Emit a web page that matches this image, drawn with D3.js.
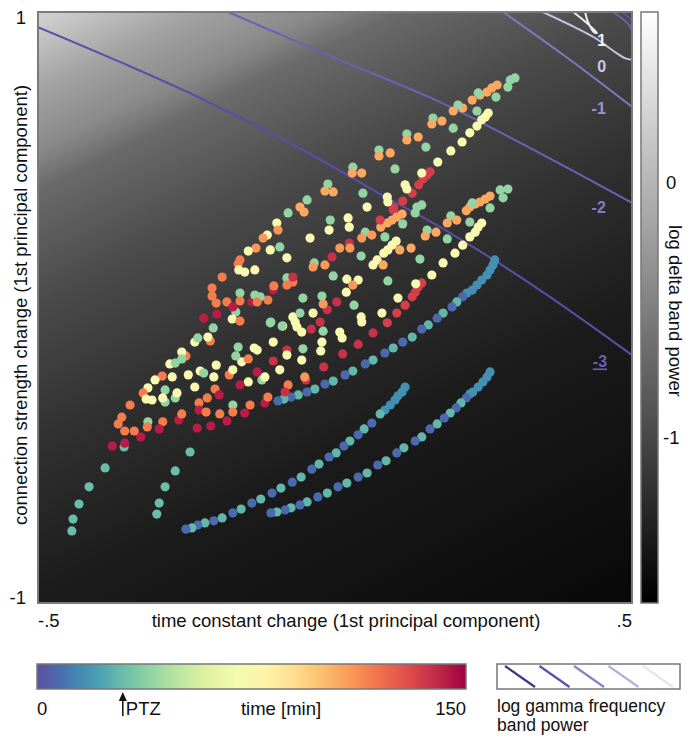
<!DOCTYPE html>
<html>
<head>
<meta charset="utf-8">
<script src="https://cdn.jsdelivr.net/npm/d3@7"></script>
<style>
  body { margin: 0; background: #fff; }
  text { font-family: "Liberation Sans", Arial, sans-serif; fill: #111; }
</style>
</head>
<body>
<div id="chart"></div>
<script>
(function(d3) {
  "use strict";

  // ---- data -------------------------------------------------------------
  var xTicks = [-0.5, 0.5], xTickLabels = ["-.5", ".5"];
  var yTicks = [1, -1], yTickLabels = ["1", "-1"];
  var deltaDomain = [-1.65, 0.67];
  var deltaTicks = [0, -1];
  var timeDomain = [0, 150];
  var ptzTime = 30;

  // gamma iso-power lines, [x, y] in PC units
  var gammaM3 = [[-0.500,0.949],[-0.362,0.831],[-0.227,0.709],[-0.054,0.533],[0.076,0.384],[0.194,0.252],[0.345,0.059],[0.500,-0.161]];
  var gammaM2 = [[-0.180,1.000],[0.008,0.838],[0.177,0.695],[0.328,0.540],[0.500,0.354]];
  var gammaM1 = [[0.283,1.000],[0.387,0.851],[0.500,0.679]];
  var gamma0  = [[0.350,1.000],[0.396,0.956],[0.438,0.912],[0.471,0.865],[0.488,0.844],[0.500,0.838]];
  var gamma1  = [[0.401,1.000],[0.418,0.973],[0.433,0.946],[0.441,0.929],[0.436,0.932],[0.426,0.966],[0.421,1.000]];
  var gamma2  = [[0.468,1.000],[0.492,0.963],[0.500,0.939]];
  var gamma3  = [[0.483,1.000],[0.500,0.973]];
  var gammaLevels = [-3, -2, -1, 0, 1, 2, 3];
  var gammaLines = [gammaM3, gammaM2, gammaM1, gamma0, gamma1, gamma2, gamma3];
  var gammaLabelLevels = [1, 0, -1, -2, -3];
  var gammaLabelX = [0.449, 0.449, 0.444, 0.444, 0.446];
  var gammaLabelY = [0.905, 0.817, 0.675, 0.340, -0.184];

  // points: [time constant PC1, connection strength PC1, time in min]
  var tealTails = [
    [-0.244,-0.489,30],[-0.269,-0.553,30],[-0.286,-0.607,30],[-0.296,-0.662,30],[-0.300,-0.699,30],
    [-0.387,-0.543,30],[-0.414,-0.607,30],[-0.431,-0.665,30],[-0.441,-0.716,30],[-0.443,-0.756,30],
    [-0.355,-0.472,30]
  ];
  var arcHigh = [
    [0.269,0.161,17],[0.266,0.144,17],[0.261,0.127,17],[0.256,0.110,17],[0.247,0.093,17],[0.239,0.076,17],[0.231,0.059,17],[0.222,0.049,17],
    [0.215,0.036,7],[0.205,0.019,28],[0.197,0.002,7],[0.182,-0.019,28],[0.172,-0.036,7],[0.157,-0.059,28],[0.146,-0.073,7],[0.130,-0.100,28],
    [0.114,-0.117,7],[0.098,-0.137,28],[0.084,-0.154,7],[0.064,-0.178,28],[0.051,-0.191,7],[0.030,-0.215,28],[0.017,-0.228,7],[-0.003,-0.249,28],
    [-0.017,-0.259,7],[-0.034,-0.276,28],[-0.047,-0.286,7],[-0.062,-0.296,28],[-0.074,-0.303,7],[-0.086,-0.310,28],[-0.096,-0.316,7]
  ];
  var arcMid = [
    [0.118,-0.269,17],[0.113,-0.286,17],[0.106,-0.299,17],[0.101,-0.313,17],[0.093,-0.330,17],[0.084,-0.347,17],[0.076,-0.360,28],
    [0.062,-0.391,7],[0.049,-0.411,28],[0.039,-0.431,7],[0.025,-0.452,28],[0.015,-0.469,7],[0.002,-0.492,28],[-0.010,-0.506,7],
    [-0.027,-0.530,28],[-0.039,-0.547,7],[-0.057,-0.574,28],[-0.072,-0.591,7],[-0.091,-0.611,28],[-0.106,-0.628,7],[-0.125,-0.648,28],
    [-0.140,-0.662,7],[-0.158,-0.682,28],[-0.172,-0.695,7],[-0.190,-0.712,28],[-0.204,-0.722,7],[-0.219,-0.729,28],[-0.231,-0.736,7],
    [-0.241,-0.746,28],[-0.251,-0.750,7]
  ];
  var arcLow = [
    [0.261,-0.218,17],[0.256,-0.235,17],[0.249,-0.252,17],[0.241,-0.269,17],[0.232,-0.286,17],[0.227,-0.293,17],
    [0.221,-0.306,7],[0.212,-0.323,28],[0.204,-0.340,7],[0.194,-0.357,28],[0.184,-0.374,7],[0.172,-0.394,28],[0.160,-0.411,7],
    [0.146,-0.438,28],[0.135,-0.452,7],[0.116,-0.475,28],[0.104,-0.492,7],[0.086,-0.519,28],[0.072,-0.533,7],[0.054,-0.560,28],
    [0.039,-0.574,7],[0.020,-0.594,28],[0.005,-0.607,7],[-0.013,-0.628,28],[-0.029,-0.641,7],[-0.047,-0.658,28],[-0.059,-0.668,7],
    [-0.074,-0.678,28],[-0.084,-0.685,7],[-0.098,-0.692,28],[-0.108,-0.695,7]
  ];
  var cloudUpper = [
    [0.303,0.777,40],[0.295,0.770,40],[0.291,0.746,40],[0.273,0.753,106],[0.264,0.743,106],[0.256,0.729,106],[0.244,0.719,106],
    [0.241,0.726,40],[0.231,0.702,106],[0.271,0.712,40],[0.215,0.675,106],[0.207,0.685,40],[0.199,0.665,106],[0.239,0.665,40],
    [0.258,0.658,74],[0.253,0.645,74],[0.247,0.635,74],[0.239,0.614,74],[0.227,0.591,74],[0.214,0.560,74],[0.195,0.530,74],[0.173,0.492,74],
    [0.165,0.641,40],[0.180,0.631,106],[0.163,0.621,106],[0.199,0.607,40],
    [0.121,0.587,40],[0.121,0.567,106],[0.140,0.577,106],[0.153,0.543,40],
    [0.074,0.533,40],[0.074,0.513,106],[0.093,0.523,106],[0.101,0.469,40],
    [0.030,0.475,40],[0.029,0.455,106],[0.045,0.455,106],
    [0.160,0.459,134],[0.155,0.448,134],[0.148,0.435,134],[0.141,0.415,134],[0.130,0.387,134],[0.114,0.360,134],[0.099,0.337,134],
    [0.146,0.455,74],[0.118,0.415,74],[0.121,0.401,74],[0.088,0.374,74],[0.089,0.357,74],[0.047,0.387,40],
    [-0.012,0.418,40],[-0.017,0.394,106],[-0.003,0.391,106],
    [-0.047,0.364,40],[-0.059,0.340,106],[-0.052,0.323,106],
    [0.054,0.340,74],[0.138,0.340,40],[0.146,0.347,40],[0.135,0.320,40]
  ];
  var cloudBand2 = [
    [0.291,0.401,40],[0.278,0.398,40],[0.283,0.371,40],[0.261,0.377,106],[0.253,0.367,106],[0.244,0.357,106],[0.236,0.350,106],
    [0.227,0.340,106],[0.221,0.327,106],[0.231,0.354,40],[0.261,0.337,40],
    [0.195,0.310,40],[0.189,0.286,106],[0.205,0.296,106],[0.227,0.289,40],
    [0.247,0.286,74],[0.241,0.272,74],[0.236,0.255,74],[0.227,0.239,74],[0.215,0.211,74],[0.202,0.184,74],[0.182,0.151,74],[0.163,0.110,74],
    [0.155,0.262,40],[0.152,0.242,106],[0.170,0.255,106],[0.189,0.232,40],
    [0.143,0.164,40],[0.128,0.201,106],
    [0.098,0.330,134],[0.113,0.316,106],[0.104,0.306,106],[0.096,0.296,106],[0.088,0.286,106],[0.077,0.272,106],[0.076,0.296,134],[0.114,0.283,40],
    [0.084,0.239,40],[0.103,0.225,74],[0.096,0.211,74],[0.089,0.195,74],[0.082,0.184,74],[0.109,0.195,106],[0.081,0.144,106],
    [0.089,0.090,40],
    [0.146,0.083,134],[0.140,0.069,134],[0.135,0.052,134],[0.130,0.036,134],[0.118,0.008,134],[0.104,-0.019,134],[0.088,-0.052,134],
    [0.136,0.080,74],[0.106,0.032,74],[0.079,-0.019,74]
  ];
  var cloudMiddle = [
    [0.051,0.255,40],[0.045,0.235,110],[0.062,0.245,110],
    [-0.079,0.320,40],[-0.098,0.286,74],[-0.096,0.262,110],[-0.114,0.245,74],[-0.121,0.235,110],[-0.133,0.201,110],[-0.146,0.191,74],
    [-0.109,0.195,74],[-0.093,0.205,40],
    [-0.042,0.235,74],[-0.010,0.262,74],[-0.008,0.296,40],[0.022,0.303,74],[0.024,0.272,74],
    [0.024,0.218,138],[0.025,0.201,110],[0.008,0.201,110],[-0.005,0.171,138],[-0.035,0.151,40],[-0.037,0.137,110],[-0.081,0.168,74],
    [-0.017,0.144,110],[0.044,0.174,40],[0.071,0.161,74],[0.064,0.144,74],
    [-0.003,0.107,40],[0.039,0.093,74],[0.020,0.096,74],[0.030,0.076,110],[0.019,0.052,74],
    [0.003,0.019,138],[-0.013,-0.008,138],[-0.025,-0.049,138],[-0.037,-0.019,74],[-0.067,-0.049,74],[-0.064,-0.066,74],
    [-0.054,0.032,40],[-0.059,-0.019,40],[-0.020,0.012,110],[-0.022,0.039,40],
    [0.032,0.008,40],[0.045,-0.049,74],[0.044,-0.032,74],[0.064,-0.086,138],[0.008,-0.083,74],[0.012,-0.103,74],[0.039,-0.124,138],
    [-0.040,-0.073,138],[-0.020,-0.080,40],[-0.054,-0.140,40],[-0.089,-0.063,40],[-0.109,-0.052,40],
    [0.013,-0.157,138],[-0.019,-0.201,138],[-0.049,-0.245,138],[-0.084,-0.286,138],
    [-0.024,-0.147,74],[-0.056,-0.178,74],[-0.051,-0.235,110],[-0.022,-0.117,74],[-0.056,-0.083,74]
  ];
  var cloudLower = [
    [-0.190,0.103,117],[-0.207,0.066,117],[-0.207,0.039,117],[-0.200,0.015,117],[-0.160,0.049,40],[-0.182,0.019,117],[-0.160,0.022,117],
    [-0.221,-0.036,143],[-0.199,-0.022,143],[-0.167,-0.015,40],[-0.173,-0.039,74],[-0.160,-0.046,117],[-0.172,0.002,143],[-0.140,0.019,143],
    [-0.163,0.147,117],[-0.162,0.127,74],[-0.152,0.120,74],[-0.160,0.161,117],[-0.135,0.127,74],
    [-0.081,0.100,40],[-0.081,0.076,117],[-0.071,0.086,117],[-0.071,0.103,138],[-0.104,0.059,143],[-0.103,0.073,117],[-0.113,0.025,117],
    [-0.135,0.042,40],[-0.126,0.036,40],[-0.131,0.019,117],[-0.108,-0.049,40],[-0.088,-0.063,74],[-0.071,-0.032,74],
    [-0.205,-0.069,40],[-0.236,-0.117,74],[-0.231,-0.103,40],[-0.210,-0.113,117],[-0.251,-0.164,117],[-0.258,-0.151,74],[-0.258,-0.174,40],
    [-0.278,-0.191,74],[-0.269,-0.188,40],[-0.291,-0.232,117],[-0.303,-0.245,74],[-0.274,-0.235,74],[-0.247,-0.228,74],[-0.227,-0.215,74],
    [-0.221,-0.222,40],[-0.200,-0.195,74],[-0.204,-0.235,74],[-0.286,-0.279,40],
    [-0.178,-0.228,117],[-0.172,-0.211,74],[-0.157,-0.184,74],[-0.136,-0.137,74],[-0.167,-0.164,40],[-0.146,-0.174,117],[-0.131,-0.218,143],
    [-0.146,-0.252,74],[-0.160,-0.262,143],
    [-0.163,-0.134,40],[-0.131,-0.144,74],[-0.123,-0.245,40],[-0.118,-0.235,74],[-0.081,-0.144,138],[-0.093,-0.211,74],
    [-0.315,-0.272,74],[-0.323,-0.289,117],[-0.318,-0.310,74],[-0.308,-0.313,74],[-0.286,-0.320,40],[-0.290,-0.306,74],[-0.269,-0.306,40],
    [-0.266,-0.289,74],[-0.236,-0.269,74],
    [-0.202,-0.276,117],[-0.195,-0.296,143],[-0.215,-0.306,117],[-0.229,-0.323,117],[-0.229,-0.347,143],[-0.217,-0.354,117],[-0.172,-0.330,40],
    [-0.172,-0.354,117],[-0.194,-0.360,117],[-0.152,-0.357,143],[-0.143,-0.330,117],
    [-0.345,-0.330,117],[-0.359,-0.371,117],[-0.365,-0.394,117],[-0.315,-0.387,40],[-0.316,-0.404,117],[-0.290,-0.387,117],[-0.263,-0.381,143],
    [-0.258,-0.360,117],[-0.232,-0.408,143],[-0.209,-0.401,143],[-0.182,-0.384,143],
    [-0.327,-0.438,143],[-0.338,-0.418,117],[-0.296,-0.411,143],[-0.354,-0.418,117],
    [-0.118,-0.323,143],[-0.113,-0.303,117],[-0.079,-0.262,117],
    [-0.104,-0.117,74],[-0.104,-0.181,138],[-0.081,-0.161,74],[-0.214,-0.100,74],
    [-0.354,-0.459,143],[-0.375,-0.469,143]
  ];

  // ---- layout -----------------------------------------------------------
  var Plot = { left: 38, top: 12, right: 632, bottom: 603 };
  var DeltaBar = { left: 641, width: 17 };
  var TimeBar = { left: 37, right: 466, top: 664, height: 25 };
  var GammaKey = { left: 497, width: 183 };
  var FONT = "18.5px";

  var x = d3.scaleLinear().domain([-0.5, 0.5]).range([Plot.left, Plot.right]);
  var y = d3.scaleLinear().domain([-1, 1]).range([Plot.bottom, Plot.top]);
  var deltaY = d3.scaleLinear().domain(deltaDomain).range([Plot.bottom, Plot.top]);
  var deltaGray = d3.scaleLinear().domain(deltaDomain).range(["#000", "#fff"]);
  var tX = d3.scaleLinear().domain(timeDomain).range([TimeBar.left, TimeBar.right]);
  var timeColor = function(t) { return d3.interpolateSpectral(1 - t / 150); };

  var gammaColor = { "-3": "#5a4fa8", "-2": "#6b61b5", "-1": "#7f77c1", "0": "#c4c0e0", "1": "#ededf3", "2": "#6b61b5", "3": "#5a4fa8" };
  var gammaLabelColor = { "-3": "#6a60bc", "-2": "#847bc8", "-1": "#9b94d0", "0": "#cbc7e5", "1": "#f2f2f6" };

  var svg = d3.select("#chart").append("svg")
    .attr("width", 692)
    .attr("height", 737);
  var defs = svg.append("defs");

  // background: delta band power falls off from upper left
  var bg = defs.append("linearGradient").attr("id", "bgGrad")
    .attr("gradientUnits", "userSpaceOnUse")
    .attr("x1", Plot.left).attr("y1", Plot.top).attr("x2", 387).attr("y2", 722);
  [[0, "#d4d4d4"], [0.088, "#a3a3a3"], [0.158, "#898989"], [0.202, "#6a6a6a"], [0.328, "#4b4b4b"],
   [0.492, "#303030"], [0.669, "#1b1b1b"], [1, "#080808"]].forEach(function(s) {
    bg.append("stop").attr("offset", s[0]).attr("stop-color", s[1]);
  });

  defs.append("clipPath").attr("id", "plotClip").append("rect")
    .attr("x", Plot.left).attr("y", Plot.top)
    .attr("width", Plot.right - Plot.left).attr("height", Plot.bottom - Plot.top);

  svg.append("rect")
    .attr("x", Plot.left).attr("y", Plot.top)
    .attr("width", Plot.right - Plot.left).attr("height", Plot.bottom - Plot.top)
    .attr("fill", "url(#bgGrad)");

  var plot = svg.append("g").attr("clip-path", "url(#plotClip)");

  var line = d3.line()
    .x(function(d) { return x(d[0]); })
    .y(function(d) { return y(d[1]); })
    .curve(d3.curveCatmullRom.alpha(0.5));

  plot.selectAll(".gamma")
    .data(gammaLines)
    .enter()
    .append("path")
    .attr("class", "gamma")
    .attr("d", line)
    .attr("fill", "none")
    .attr("stroke", function(d, i) { return gammaColor[gammaLevels[i]]; })
    .attr("stroke-width", 2);

  plot.selectAll(".gammaLabel")
    .data(gammaLabelLevels)
    .enter()
    .append("text")
    .attr("class", "gammaLabel")
    .attr("x", function(d, i) { return x(gammaLabelX[i]); })
    .attr("y", function(d, i) { return y(gammaLabelY[i]); })
    .attr("dy", "0.35em")
    .attr("text-anchor", "middle")
    .style("font-size", "16px")
    .style("font-weight", "bold")
    .style("fill", function(d) { return gammaLabelColor[d]; })
    .style("text-decoration", function(d) { return d === -3 ? "underline" : null; })
    .text(function(d) { return d; });

  var dots = [].concat(tealTails, arcLow, arcMid, arcHigh, cloudLower, cloudMiddle, cloudBand2, cloudUpper);
  plot.selectAll(".dot")
    .data(dots)
    .enter()
    .append("circle")
    .attr("class", "dot")
    .attr("cx", function(d) { return x(d[0]); })
    .attr("cy", function(d) { return y(d[1]); })
    .attr("r", 4.6)
    .attr("fill", function(d) { return timeColor(d[2]); });

  svg.append("rect")
    .attr("x", Plot.left).attr("y", Plot.top)
    .attr("width", Plot.right - Plot.left).attr("height", Plot.bottom - Plot.top)
    .attr("fill", "none")
    .attr("stroke", "#7b7b7b")
    .attr("stroke-width", 2);

  // axis labels
  svg.selectAll(".xTick")
    .data(xTicks)
    .enter()
    .append("text")
    .attr("class", "xTick")
    .attr("x", function(d) { return x(d); })
    .attr("y", 627)
    .attr("text-anchor", function(d, i) { return i === 0 ? "start" : "end"; })
    .style("font-size", FONT)
    .text(function(d, i) { return xTickLabels[i]; });

  svg.selectAll(".yTick")
    .data(yTicks)
    .enter()
    .append("text")
    .attr("class", "yTick")
    .attr("x", 26)
    .attr("y", function(d, i) { return y(d) + (i === 0 ? 12 : 1); })
    .attr("text-anchor", "end")
    .style("font-size", FONT)
    .text(function(d, i) { return yTickLabels[i]; });

  svg.append("text")
    .attr("x", 346).attr("y", 627)
    .attr("text-anchor", "middle")
    .style("font-size", FONT)
    .text("time constant change (1st principal component)");

  svg.append("text")
    .attr("transform", "translate(27, 305) rotate(-90)")
    .attr("text-anchor", "middle")
    .style("font-size", FONT)
    .text("connection strength change (1st principal component)");

  // delta colorbar
  var dGrad = defs.append("linearGradient").attr("id", "deltaGrad")
    .attr("x1", 0).attr("y1", 1).attr("x2", 0).attr("y2", 0);
  dGrad.selectAll("stop")
    .data(deltaDomain)
    .enter()
    .append("stop")
    .attr("offset", function(d, i) { return i; })
    .attr("stop-color", deltaGray);
  svg.append("rect")
    .attr("x", DeltaBar.left).attr("y", deltaY(deltaDomain[1]))
    .attr("width", DeltaBar.width).attr("height", deltaY(deltaDomain[0]) - deltaY(deltaDomain[1]))
    .attr("fill", "url(#deltaGrad)")
    .attr("stroke", "#777")
    .attr("stroke-width", 1.5);
  svg.selectAll(".deltaTick")
    .data(deltaTicks)
    .enter()
    .append("text")
    .attr("class", "deltaTick")
    .attr("x", function(d) { return d < 0 ? 663 : 666; })
    .attr("y", function(d) { return deltaY(d); })
    .attr("dy", "0.35em")
    .style("font-size", FONT)
    .text(function(d) { return d; });
  svg.append("text")
    .attr("transform", "translate(669, 311) rotate(90)")
    .attr("text-anchor", "middle")
    .style("font-size", FONT)
    .text("log delta band power");

  // time colorbar
  var tGrad = defs.append("linearGradient").attr("id", "timeGrad");
  tGrad.selectAll("stop")
    .data(d3.range(timeDomain[0], timeDomain[1] + 1, 10))
    .enter()
    .append("stop")
    .attr("offset", function(d) { return d / timeDomain[1]; })
    .attr("stop-color", timeColor);
  svg.append("rect")
    .attr("x", tX(timeDomain[0])).attr("y", TimeBar.top)
    .attr("width", tX(timeDomain[1]) - tX(timeDomain[0])).attr("height", TimeBar.height)
    .attr("fill", "url(#timeGrad)")
    .attr("stroke", "#777")
    .attr("stroke-width", 1.5);
  svg.append("text").attr("x", tX(0)).attr("y", 715).style("font-size", FONT).text("0");
  svg.append("text").attr("x", tX(150)).attr("y", 715).attr("text-anchor", "end").style("font-size", FONT).text("150");
  svg.append("text").attr("x", 281).attr("y", 715).attr("text-anchor", "middle").style("font-size", FONT).text("time [min]");
  svg.append("text").attr("x", tX(ptzTime) + 3).attr("y", 715).style("font-size", FONT).text("PTZ");
  svg.append("line")
    .attr("x1", tX(ptzTime)).attr("x2", tX(ptzTime))
    .attr("y1", 716).attr("y2", 698)
    .attr("stroke", "#111").attr("stroke-width", 1.5);
  svg.append("path")
    .attr("d", "M" + (tX(ptzTime) - 4) + ",701 L" + tX(ptzTime) + ",692 L" + (tX(ptzTime) + 4) + ",701 Z")
    .attr("fill", "#111");

  // gamma key
  var keyColors = ["#3e3491", "#5a52a6", "#8982c0", "#b8b2d8", "#e6e4f0"];
  var keyX = d3.scaleLinear().domain([0, keyColors.length - 1]).range([GammaKey.left + 8, GammaKey.left + 146]);
  svg.append("rect")
    .attr("x", GammaKey.left).attr("y", TimeBar.top)
    .attr("width", GammaKey.width).attr("height", TimeBar.height)
    .attr("fill", "#fff")
    .attr("stroke", "#777")
    .attr("stroke-width", 1.5);
  svg.selectAll(".keyLine")
    .data(keyColors)
    .enter()
    .append("line")
    .attr("class", "keyLine")
    .attr("x1", function(d, i) { return keyX(i); })
    .attr("x2", function(d, i) { return keyX(i) + 30; })
    .attr("y1", TimeBar.top + 2)
    .attr("y2", TimeBar.top + TimeBar.height - 2)
    .attr("stroke", function(d) { return d; })
    .attr("stroke-width", 2.2);
  svg.append("text").attr("x", GammaKey.left).attr("y", 712).style("font-size", "17.5px").text("log gamma frequency");
  svg.append("text").attr("x", GammaKey.left).attr("y", 731).style("font-size", "17.5px").text("band power");

})(d3);
</script>
</body>
</html>
